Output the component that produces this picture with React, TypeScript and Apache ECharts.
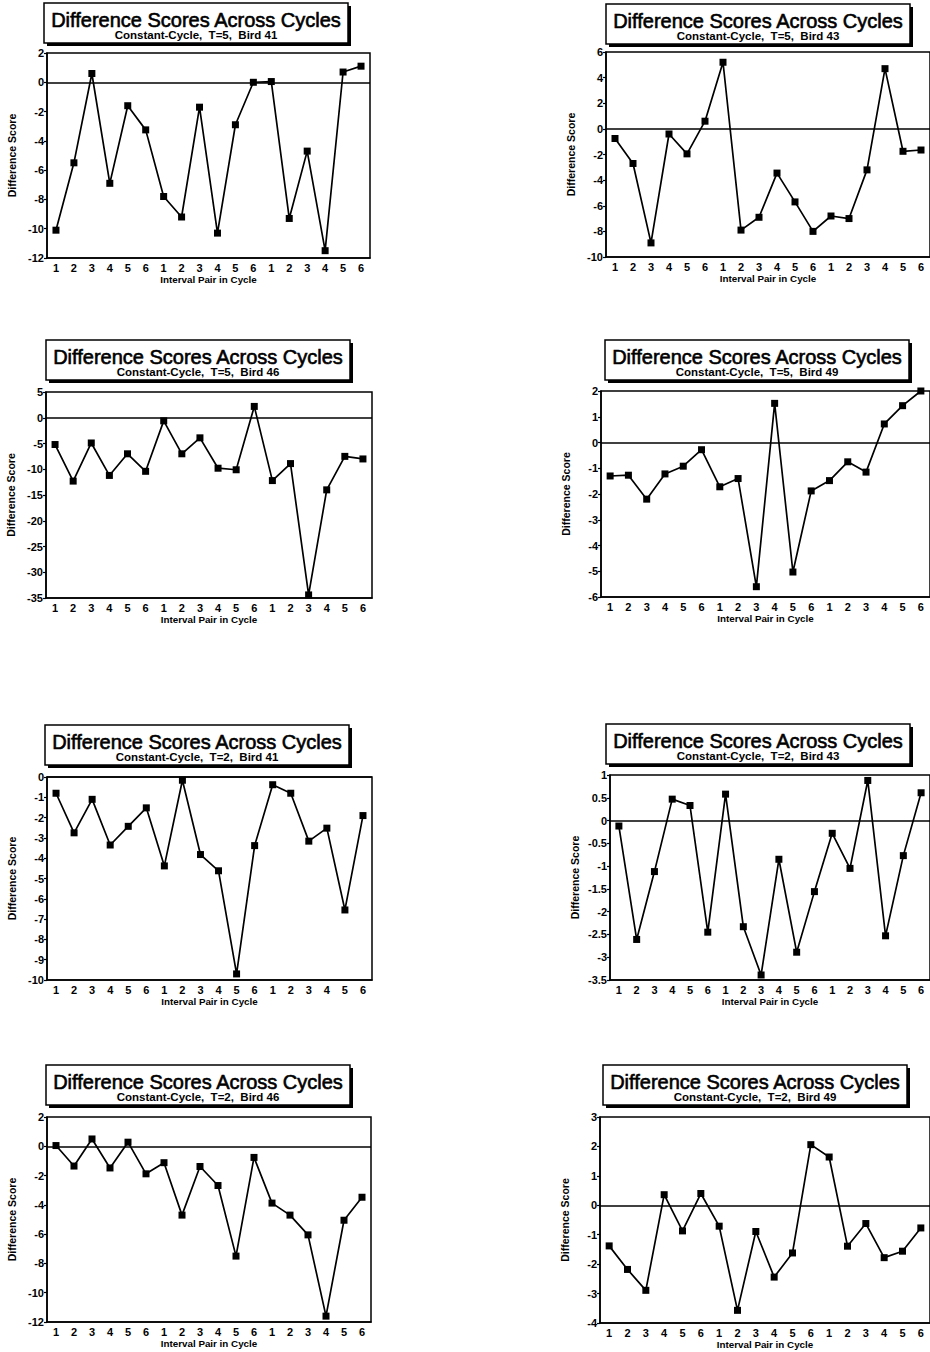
import React, { useEffect, useRef } from "react";
import * as echarts from "echarts";

// ---------- data ----------
const xLabels = ["1", "2", "3", "4", "5", "6", "1", "2", "3", "4", "5", "6", "1", "2", "3", "4", "5", "6"];
const mainTitle = "Difference Scores Across Cycles";
const yAxisName = "Difference Score";
const xAxisName = "Interval Pair in Cycle";

const subtitles = [
  "Constant-Cycle,  T=5,  Bird 41",
  "Constant-Cycle,  T=5,  Bird 43",
  "Constant-Cycle,  T=5,  Bird 46",
  "Constant-Cycle,  T=5,  Bird 49",
  "Constant-Cycle,  T=2,  Bird 41",
  "Constant-Cycle,  T=2,  Bird 43",
  "Constant-Cycle,  T=2,  Bird 46",
  "Constant-Cycle,  T=2,  Bird 49",
];

const t5Bird41 = [-10.1, -5.5, 0.6, -6.9, -1.6, -3.25, -7.8, -9.2, -1.7, -10.3, -2.9, 0.0, 0.05, -9.3, -4.7, -11.5, 0.7, 1.1];
const t5Bird43 = [-0.75, -2.7, -8.9, -0.4, -1.95, 0.6, 5.2, -7.9, -6.9, -3.45, -5.7, -8.0, -6.8, -7.0, -3.2, 4.7, -1.75, -1.65];
const t5Bird46 = [-5.2, -12.3, -4.9, -11.2, -7.0, -10.4, -0.6, -7.0, -3.9, -9.8, -10.1, 2.2, -12.2, -8.9, -34.4, -14.0, -7.5, -8.0];
const t5Bird49 = [-1.3, -1.27, -2.2, -1.22, -0.92, -0.28, -1.72, -1.4, -5.6, 1.52, -5.03, -1.88, -1.48, -0.75, -1.15, 0.72, 1.43, 2.0];
const t2Bird41 = [-0.8, -2.75, -1.1, -3.35, -2.43, -1.52, -4.38, -0.16, -3.82, -4.62, -9.7, -3.38, -0.38, -0.8, -3.16, -2.52, -6.55, -1.9];
const t2Bird43 = [-0.12, -2.61, -1.12, 0.47, 0.33, -2.45, 0.58, -2.33, -3.39, -0.85, -2.89, -1.56, -0.28, -1.05, 0.88, -2.53, -0.77, 0.61];
const t2Bird46 = [0.05, -1.35, 0.5, -1.48, 0.28, -1.88, -1.12, -4.7, -1.38, -2.68, -7.5, -0.76, -3.88, -4.7, -6.05, -11.6, -5.05, -3.48];
const t2Bird49 = [-1.38, -2.18, -2.89, 0.36, -0.87, 0.4, -0.71, -3.57, -0.89, -2.44, -1.62, 2.06, 1.64, -1.39, -0.62, -1.78, -1.56, -0.77];

const seriesValues = [t5Bird41, t5Bird43, t5Bird46, t5Bird49, t2Bird41, t2Bird43, t2Bird46, t2Bird49];

const yMins = [-12, -10, -35, -6, -10, -3.5, -12, -4];
const yMaxs = [2, 6, 5, 2, 0, 1, 2, 3];
const yIntervals = [2, 2, 5, 1, 1, 0.5, 2, 1];

// ---------- layout ----------
const grids = [
  { left: 47, top: 53, width: 323, height: 205 },
  { left: 606, top: 52, width: 326, height: 205 },
  { left: 46, top: 392, width: 326, height: 206 },
  { left: 601, top: 391, width: 333, height: 206 },
  { left: 47, top: 777, width: 325, height: 203 },
  { left: 610, top: 775, width: 320, height: 205 },
  { left: 47, top: 1117, width: 324, height: 205 },
  { left: 600, top: 1117, width: 334, height: 206 },
];
const boxes = [
  { x: 44, y: 3 },
  { x: 606, y: 4 },
  { x: 46, y: 340 },
  { x: 605, y: 340 },
  { x: 45, y: 725 },
  { x: 606, y: 724 },
  { x: 46, y: 1065 },
  { x: 603, y: 1065 },
];
const BOX_W = 304;
const BOX_H = 40;
const FONT = '"Liberation Sans", Arial, sans-serif';
const INK = "#000";

function buildOption() {
  const graphic: any[] = [];
  boxes.forEach((b, i) => {
    graphic.push({
      type: "rect",
      shape: { x: b.x + 3, y: b.y + 3, width: BOX_W, height: BOX_H },
      style: { fill: INK },
      z: 10,
    });
    graphic.push({
      type: "rect",
      shape: { x: b.x, y: b.y, width: BOX_W, height: BOX_H },
      style: { fill: "#fff", stroke: INK, lineWidth: 1.5 },
      z: 11,
    });
    graphic.push({
      type: "text",
      x: b.x + BOX_W / 2,
      y: b.y + 17,
      style: {
        text: mainTitle,
        fill: INK,
        stroke: INK,
        lineWidth: 0.6,
        font: `normal 20px ${FONT}`,
        textAlign: "center",
        textVerticalAlign: "middle",
      },
      z: 12,
    });
    graphic.push({
      type: "text",
      x: b.x + BOX_W / 2,
      y: b.y + 32,
      style: {
        text: subtitles[i],
        fill: INK,
        font: `bold 11.5px ${FONT}`,
        textAlign: "center",
        textVerticalAlign: "middle",
      },
      z: 12,
    });
  });

  return {
    animation: false,
    backgroundColor: "#fff",
    grid: grids.map((g) => ({
      ...g,
      show: true,
      borderColor: INK,
      borderWidth: 1.5,
      backgroundColor: "transparent",
      containLabel: false,
    })),
    xAxis: grids.map((_, i) => ({
      type: "category",
      gridIndex: i,
      data: xLabels,
      boundaryGap: true,
      axisLine: { show: true, onZero: false, lineStyle: { color: INK, width: 1.5 } },
      axisTick: { show: false },
      splitLine: { show: false },
      axisLabel: {
        interval: 0,
        color: INK,
        fontFamily: FONT,
        fontWeight: "bold",
        fontSize: 11,
        margin: 4,
      },
      name: xAxisName,
      nameLocation: "middle",
      nameGap: 16,
      nameTextStyle: { color: INK, fontFamily: FONT, fontWeight: "bold", fontSize: 9.8 },
    })),
    yAxis: grids.map((_, i) => ({
      type: "value",
      gridIndex: i,
      min: yMins[i],
      max: yMaxs[i],
      interval: yIntervals[i],
      axisLine: { show: true, lineStyle: { color: INK, width: 1.5 } },
      axisTick: { show: true, length: 3, lineStyle: { color: INK, width: 1.2 } },
      splitLine: { show: false },
      axisLabel: {
        color: INK,
        fontFamily: FONT,
        fontWeight: "bold",
        fontSize: 11,
        margin: 3,
      },
      name: yAxisName,
      nameLocation: "middle",
      nameGap: 30,
      nameRotate: 90,
      nameTextStyle: { color: INK, fontFamily: FONT, fontWeight: "bold", fontSize: 10.5 },
    })),
    series: seriesValues.map((vals, i) => ({
      type: "line",
      xAxisIndex: i,
      yAxisIndex: i,
      data: vals,
      symbol: "rect",
      symbolSize: 7,
      showSymbol: true,
      lineStyle: { color: INK, width: 1.7 },
      itemStyle: { color: INK },
      markLine: {
        silent: true,
        symbol: ["none", "none"],
        label: { show: false },
        lineStyle: { color: INK, width: 1.5, type: "solid" },
        data: [{ yAxis: 0 }],
      },
    })),
    graphic,
  };
}

export default function App() {
  const ref = useRef<HTMLDivElement>(null);
  useEffect(() => {
    if (!ref.current) return;
    const chart = echarts.init(ref.current, undefined, { renderer: "svg" });
    chart.setOption(buildOption() as any);
    return () => chart.dispose();
  }, []);
  return (
    <div
      ref={ref}
      style={{ position: "fixed", left: 0, top: 0, width: 930, height: 1352, background: "#fff" }}
    />
  );
}
